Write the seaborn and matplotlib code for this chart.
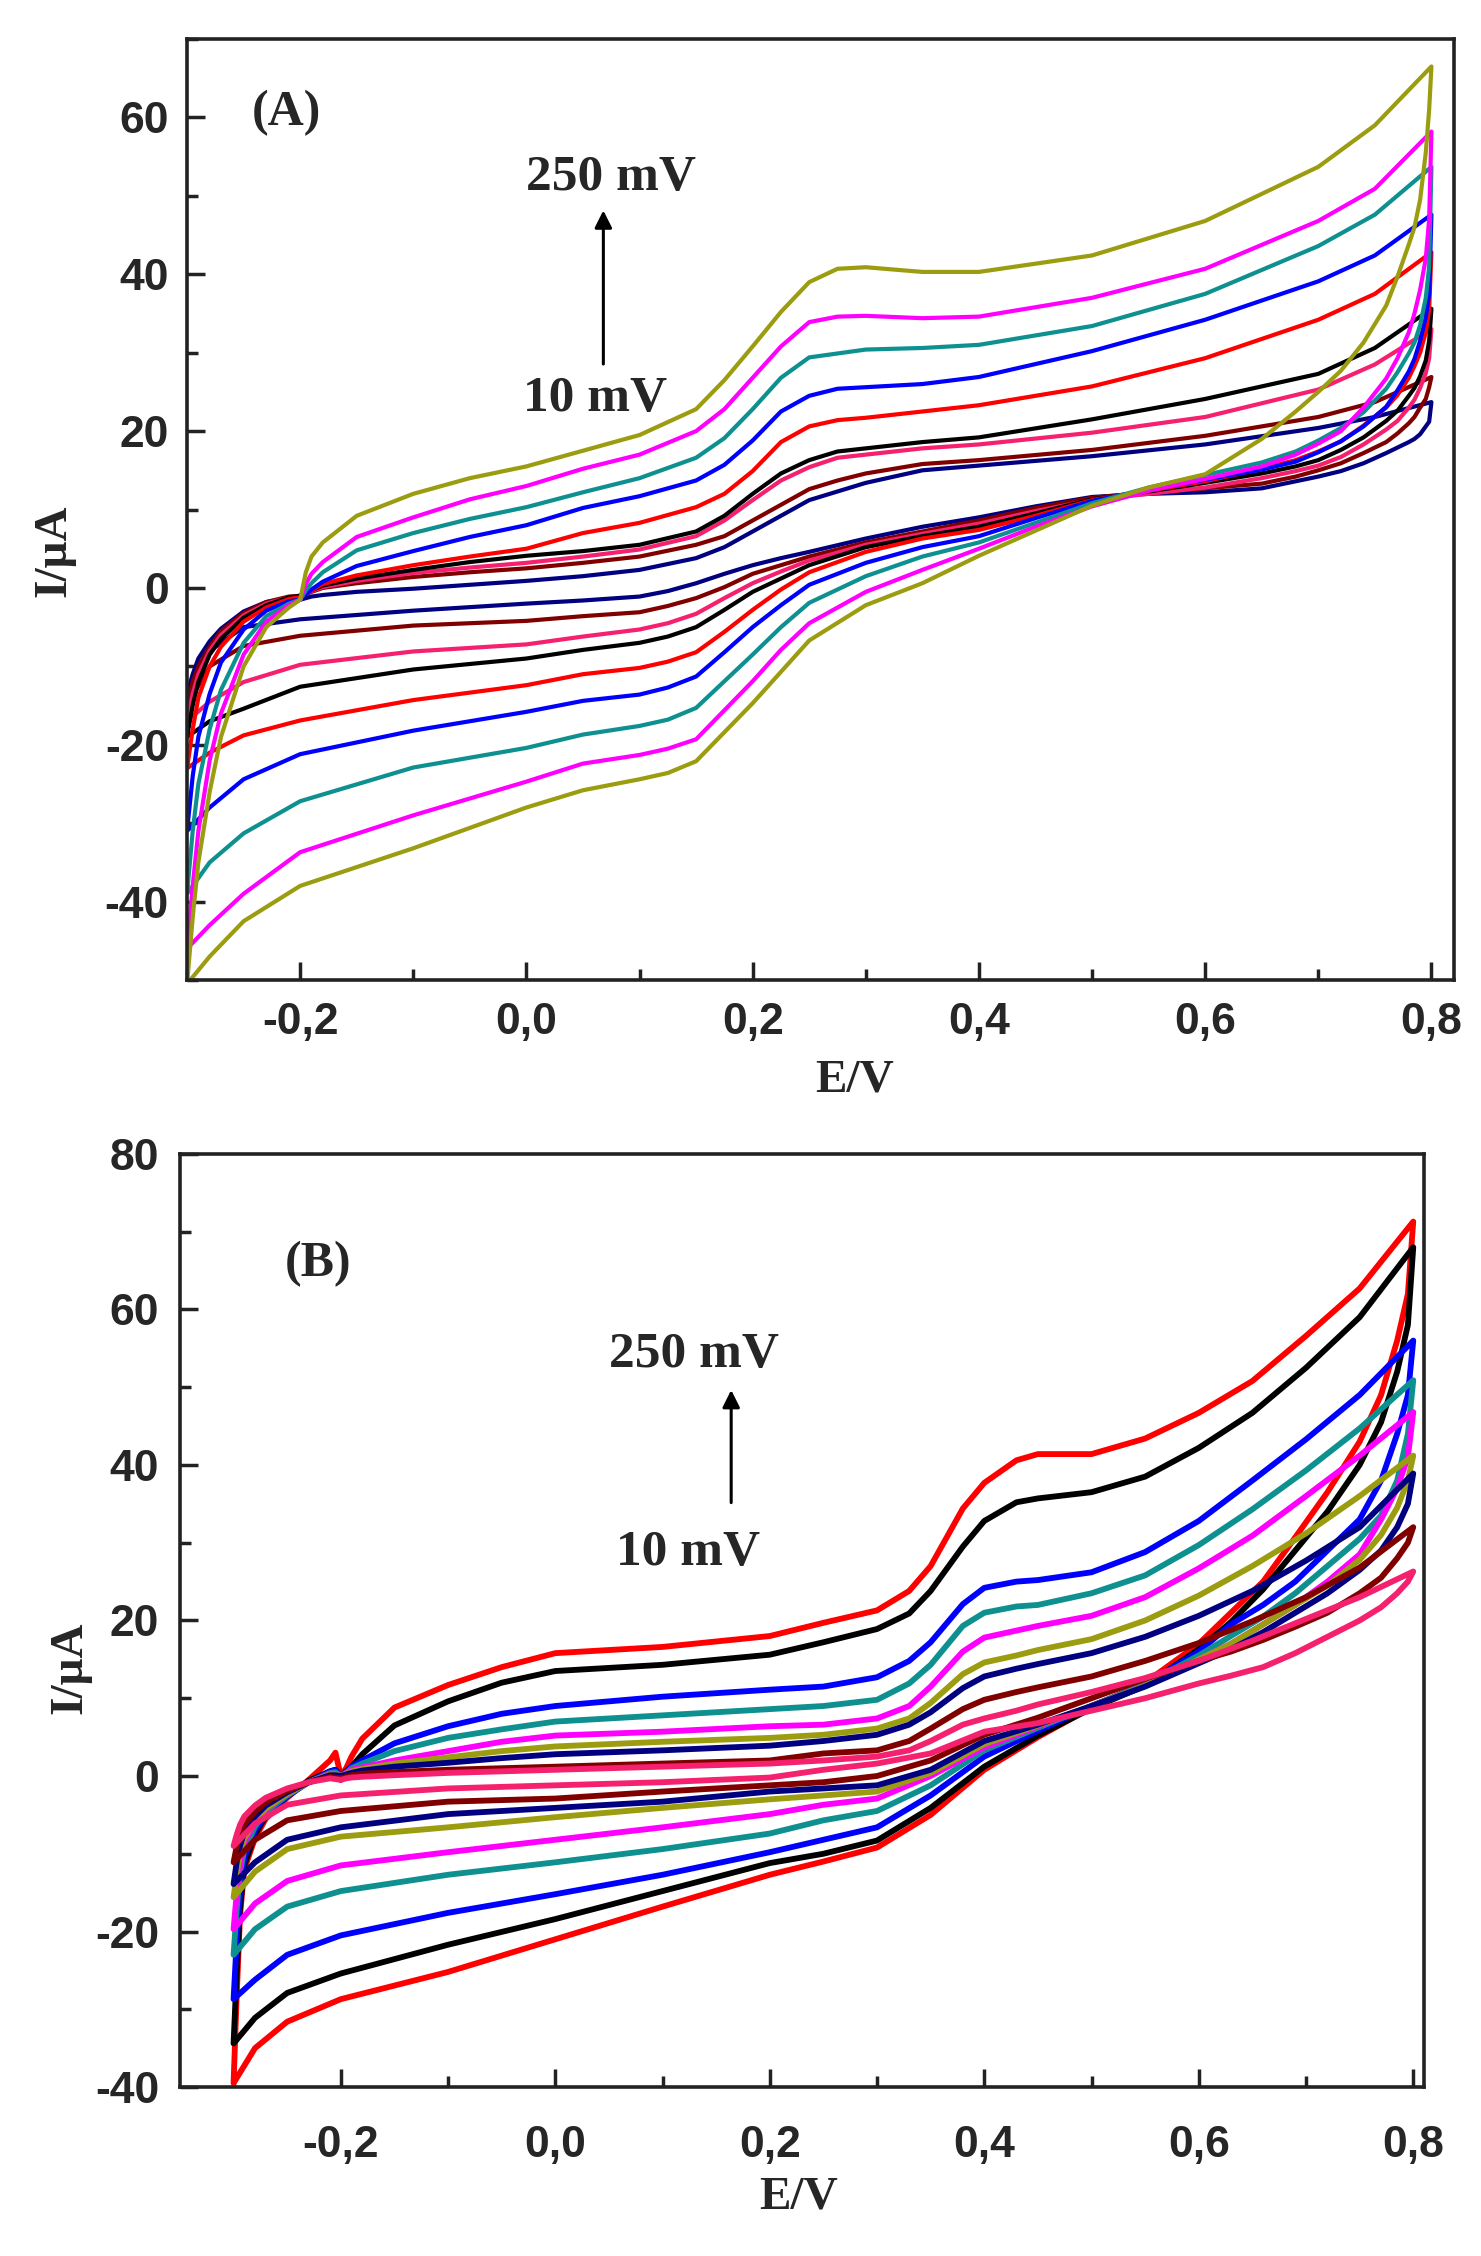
import matplotlib
matplotlib.use("Agg")
import matplotlib.pyplot as plt
import pandas as pd
import seaborn as sns
from matplotlib.ticker import MultipleLocator, FuncFormatter

# ---------------- panel A : potential grids (V) ----------------
A_FWD_X = [-0.20, -0.195, -0.19, -0.18, -0.15, -0.10, -0.05, 0.00, 0.05, 0.10, 0.15, 0.175,
           0.20, 0.225, 0.25, 0.275, 0.30, 0.35, 0.40, 0.50, 0.60, 0.70, 0.75, 0.80]
A_REV_X = [0.80, 0.798, 0.795, 0.79, 0.785, 0.78, 0.77, 0.76, 0.74, 0.72, 0.70, 0.68, 0.65,
           0.60, 0.55, 0.50, 0.45, 0.40, 0.35, 0.30, 0.25, 0.225, 0.20, 0.175, 0.15, 0.125,
           0.10, 0.05, 0.00, -0.10, -0.20, -0.25, -0.28, -0.30]
A_RET_X = [-0.30, -0.295, -0.29, -0.28, -0.27, -0.25, -0.23, -0.21, -0.20]

# panel A currents (uA)
a_olive_fwd = [-1.5, 2.0, 4.0, 5.8, 9.2, 12.0, 14.0, 15.5, 17.5, 19.5, 22.8, 26.5, 30.8, 35.2, 39.0, 40.7, 40.9, 40.3, 40.3, 42.4, 46.8, 53.7, 59.0, 66.5]
a_olive_rev = [66.5, 61.0, 55.5, 49.5, 46.0, 43.8, 39.7, 36.0, 31.3, 27.7, 25.0, 22.5, 19.0, 14.5, 12.8, 10.5, 7.3, 4.1, 0.6, -2.2, -6.7, -10.7, -14.7, -18.4, -22.1, -23.6, -24.4, -25.8, -28.0, -33.2, -38.0, -42.5, -47.0, -50.5]
a_olive_ret = [-50.5, -42.0, -35.0, -26.0, -19.0, -10.0, -5.0, -2.5, -1.5]

a_magenta_fwd = [-1.5, 0.5, 1.8, 3.3, 6.5, 9.0, 11.3, 13.0, 15.2, 17.0, 20.0, 22.8, 26.8, 30.8, 33.9, 34.6, 34.7, 34.4, 34.6, 37.0, 40.7, 46.8, 50.9, 58.2]
a_magenta_rev = [58.2, 47.0, 42.0, 38.0, 35.0, 32.6, 29.3, 26.7, 23.0, 20.0, 18.4, 17.0, 15.5, 13.9, 12.4, 10.4, 7.8, 5.0, 2.3, -0.5, -4.5, -7.9, -11.9, -15.6, -19.3, -20.5, -21.3, -22.4, -24.7, -29.0, -33.7, -39.0, -43.0, -46.0]
a_magenta_ret = [-46.0, -38.0, -31.0, -22.0, -16.0, -8.5, -4.3, -2.2, -1.5]

a_teal_fwd = [-1.5, -0.3, 0.6, 2.0, 4.8, 7.0, 8.8, 10.3, 12.2, 14.0, 16.6, 19.1, 22.8, 26.8, 29.4, 29.9, 30.4, 30.6, 31.0, 33.4, 37.5, 43.6, 47.6, 53.7]
a_teal_rev = [53.7, 41.0, 37.0, 33.5, 31.3, 29.9, 27.5, 25.4, 22.4, 20.4, 18.8, 17.4, 16.0, 14.4, 12.8, 10.8, 8.3, 5.8, 4.0, 1.5, -1.9, -5.0, -8.5, -11.9, -15.3, -16.8, -17.6, -18.7, -20.4, -22.9, -27.2, -31.3, -35.0, -39.0]
a_teal_ret = [-39.0, -31.0, -25.0, -18.0, -13.0, -7.0, -3.6, -2.0, -1.5]

a_blue_fwd = [-1.5, -0.8, -0.2, 0.8, 2.8, 4.7, 6.5, 8.0, 10.2, 11.7, 13.7, 15.7, 18.8, 22.5, 24.5, 25.4, 25.6, 26.0, 26.9, 30.2, 34.2, 39.1, 42.4, 47.6]
a_blue_rev = [47.6, 37.5, 34.5, 31.5, 29.2, 27.6, 25.2, 23.1, 20.6, 18.7, 17.3, 16.1, 15.1, 13.8, 12.5, 11.1, 8.9, 6.6, 5.2, 3.2, 0.4, -2.2, -5.0, -8.2, -11.3, -12.7, -13.6, -14.4, -15.8, -18.2, -21.2, -24.4, -28.0, -31.0]
a_blue_ret = [-31.0, -24.0, -19.0, -13.5, -9.5, -5.3, -2.9, -1.7, -1.5]

a_red_fwd = [-1.2, -0.7, -0.3, 0.5, 1.6, 2.9, 4.0, 5.0, 7.0, 8.3, 10.3, 12.0, 14.9, 18.6, 20.6, 21.4, 21.7, 22.5, 23.3, 25.7, 29.3, 34.2, 37.5, 42.8]
a_red_rev = [42.8, 35.5, 32.6, 30.0, 28.3, 26.8, 24.6, 23.0, 20.7, 18.7, 17.4, 16.3, 15.2, 13.6, 12.4, 11.2, 9.2, 7.4, 6.3, 4.6, 2.0, -0.2, -2.8, -5.6, -8.2, -9.4, -10.2, -11.0, -12.4, -14.3, -16.9, -18.8, -21.0, -23.0]
a_red_ret = [-23.0, -18.0, -14.0, -10.0, -7.5, -4.3, -2.5, -1.4, -1.2]

a_black_fwd = [-1.0, -0.6, -0.3, 0.3, 1.2, 2.3, 3.3, 4.1, 4.7, 5.5, 7.2, 9.2, 12.0, 14.6, 16.3, 17.4, 17.8, 18.6, 19.2, 21.5, 24.1, 27.3, 30.6, 35.6]
a_black_rev = [35.6, 31.5, 29.0, 27.0, 25.5, 24.5, 22.6, 21.3, 19.2, 17.6, 16.3, 15.5, 14.6, 13.4, 12.3, 11.3, 9.5, 7.8, 6.6, 5.2, 2.9, 1.2, -0.5, -2.8, -5.0, -6.2, -7.0, -7.9, -9.0, -10.4, -12.6, -15.4, -17.0, -19.0]
a_black_ret = [-19.0, -15.0, -12.0, -8.5, -6.5, -3.8, -2.2, -1.2, -1.0]

a_pink_fwd = [-1.0, -0.7, -0.4, 0.1, 0.9, 1.9, 2.6, 3.2, 4.0, 4.9, 6.6, 8.6, 11.2, 13.7, 15.4, 16.6, 17.0, 17.8, 18.3, 19.8, 21.8, 25.3, 28.5, 33.0]
a_pink_rev = [33.0, 29.3, 27.4, 25.5, 24.0, 23.0, 21.3, 20.2, 18.3, 16.7, 15.6, 14.9, 14.0, 12.8, 12.0, 11.2, 9.8, 8.2, 6.9, 5.5, 3.5, 2.1, 0.6, -1.3, -3.3, -4.5, -5.3, -6.2, -7.2, -8.1, -9.8, -12.0, -14.5, -17.0]
a_pink_ret = [-17.0, -13.5, -11.0, -8.0, -6.0, -3.5, -2.0, -1.2, -1.0]

a_maroon_fwd = [-1.0, -0.8, -0.5, 0.0, 0.6, 1.4, 2.0, 2.5, 3.2, 4.0, 5.5, 6.6, 8.6, 10.6, 12.6, 13.7, 14.6, 15.8, 16.3, 17.6, 19.4, 21.8, 23.7, 26.9]
a_maroon_rev = [26.9, 25.6, 24.1, 23.0, 21.8, 21.0, 19.7, 18.6, 17.2, 15.9, 15.0, 14.2, 13.3, 12.7, 12.2, 11.5, 10.2, 8.6, 7.2, 5.8, 4.0, 2.9, 1.8, 0.1, -1.3, -2.3, -3.1, -3.6, -4.2, -4.8, -6.1, -7.4, -10.0, -15.0]
a_maroon_ret = [-15.0, -12.0, -10.0, -7.5, -5.5, -3.2, -1.8, -1.1, -1.0]

a_navy_fwd = [-1.5, -1.3, -1.1, -0.9, -0.5, -0.1, 0.4, 0.9, 1.5, 2.3, 3.8, 5.2, 7.2, 9.2, 11.2, 12.3, 13.4, 15.0, 15.6, 16.8, 18.3, 20.4, 21.8, 23.7]
a_navy_rev = [23.7, 21.2, 20.6, 19.6, 19.0, 18.6, 17.9, 17.2, 15.9, 14.9, 14.2, 13.6, 12.7, 12.2, 12.0, 11.6, 10.4, 9.0, 7.8, 6.3, 4.6, 3.8, 2.9, 1.8, 0.6, -0.4, -1.1, -1.6, -2.0, -2.9, -4.0, -5.0, -8.0, -13.5]
a_navy_ret = [-13.5, -11.0, -9.0, -6.8, -5.2, -3.0, -1.8, -1.3, -1.5]

# ---------------- panel B : potential grids (V) ----------------
B_FWD_X = [-0.20, -0.195, -0.19, -0.18, -0.15, -0.10, -0.05, 0.00, 0.10, 0.20, 0.25, 0.30, 0.33,
           0.35, 0.38, 0.40, 0.43, 0.45, 0.50, 0.55, 0.60, 0.65, 0.70, 0.75, 0.80]
B_REV_X = [0.80, 0.795, 0.785, 0.77, 0.75, 0.72, 0.69, 0.66, 0.63, 0.60, 0.55, 0.50, 0.45,
           0.40, 0.35, 0.30, 0.25, 0.20, 0.10, 0.00, -0.10, -0.20, -0.25, -0.28, -0.30]
B_RET_X = [-0.30, -0.297, -0.294, -0.29, -0.28, -0.27, -0.25, -0.23, -0.21, -0.205, -0.20]

b_red_fwd = [0.0, 1.0, 2.5, 4.8, 8.8, 11.7, 14.0, 15.8, 16.6, 18.0, 19.7, 21.3, 23.8, 27.0, 34.4, 37.7, 40.6, 41.4, 41.4, 43.4, 46.7, 50.8, 56.6, 62.7, 71.3]
b_red_rev = [71.3, 62.0, 56.0, 49.0, 43.0, 36.5, 30.7, 25.0, 21.0, 17.0, 12.0, 8.8, 5.0, 0.8, -5.0, -9.2, -11.0, -12.7, -16.8, -21.0, -25.2, -28.7, -31.6, -35.0, -39.5]
b_red_ret = [-39.5, -28.0, -18.0, -12.0, -8.0, -5.5, -2.8, -0.5, 2.0, 3.0, 0.0]

b_black_fwd = [0.0, 0.6, 1.2, 2.8, 6.5, 9.6, 12.0, 13.5, 14.3, 15.6, 17.2, 18.9, 20.9, 23.8, 29.5, 32.8, 35.2, 35.7, 36.5, 38.5, 42.2, 46.7, 52.5, 59.0, 68.0]
b_black_rev = [68.0, 58.0, 52.0, 45.5, 40.0, 34.0, 29.0, 24.0, 19.8, 16.3, 11.6, 8.7, 5.2, 1.2, -4.1, -8.3, -10.0, -11.2, -14.8, -18.4, -21.7, -25.4, -27.9, -31.1, -34.4]
b_black_ret = [-34.4, -25.0, -17.0, -11.5, -7.5, -5.2, -2.6, -0.6, 0.6, 0.8, 0.0]

b_blue_fwd = [0.0, 0.5, 1.2, 2.0, 4.2, 6.4, 8.0, 9.0, 10.2, 11.1, 11.5, 12.7, 14.8, 17.2, 22.1, 24.2, 25.0, 25.2, 26.2, 28.8, 32.8, 38.0, 43.3, 49.0, 56.0]
b_blue_rev = [56.0, 49.0, 44.0, 38.0, 33.0, 29.0, 25.0, 22.0, 19.5, 16.0, 11.8, 9.0, 5.8, 2.5, -2.5, -6.6, -8.2, -9.8, -12.7, -15.2, -17.6, -20.5, -23.0, -26.2, -28.7]
b_blue_ret = [-28.7, -21.0, -15.0, -10.5, -7.0, -5.0, -2.6, -0.8, 0.6, 0.8, 0.0]

b_teal_fwd = [0.0, 0.4, 1.0, 1.6, 3.2, 4.9, 6.0, 7.0, 7.8, 8.6, 9.0, 9.8, 11.9, 14.3, 19.3, 21.0, 21.8, 22.0, 23.5, 25.8, 29.7, 34.3, 39.3, 44.7, 50.9]
b_teal_rev = [50.9, 44.0, 38.0, 33.5, 30.5, 27.0, 23.5, 20.5, 18.0, 15.5, 11.8, 9.0, 6.2, 3.3, -1.2, -4.5, -5.7, -7.4, -9.4, -11.1, -12.7, -14.8, -16.8, -19.7, -23.0]
b_teal_ret = [-23.0, -17.0, -12.5, -9.5, -6.5, -4.6, -2.5, -0.8, 0.4, 0.5, 0.0]

b_magenta_fwd = [0.0, 0.4, 0.8, 1.1, 2.0, 3.2, 4.4, 5.2, 5.7, 6.4, 6.6, 7.4, 9.0, 11.5, 16.0, 17.8, 18.7, 19.3, 20.6, 23.0, 26.7, 30.9, 36.0, 41.2, 46.8]
b_magenta_rev = [46.8, 41.0, 37.0, 33.0, 28.5, 25.0, 22.0, 19.5, 17.0, 15.0, 11.6, 9.0, 6.4, 3.7, 0.0, -2.9, -3.7, -4.9, -6.6, -8.2, -9.8, -11.5, -13.5, -16.4, -19.7]
b_magenta_ret = [-19.7, -15.0, -11.5, -8.5, -6.0, -4.3, -2.3, -0.8, 0.3, 0.3, 0.0]

b_olive_fwd = [0.0, 0.3, 0.6, 0.9, 1.6, 2.4, 3.2, 3.8, 4.4, 4.9, 5.3, 6.1, 7.4, 9.4, 13.1, 14.6, 15.5, 16.2, 17.6, 20.0, 23.2, 27.0, 31.2, 36.0, 41.2]
b_olive_rev = [41.2, 38.0, 34.5, 31.0, 27.8, 24.5, 22.0, 19.5, 17.0, 15.0, 11.6, 9.0, 6.5, 4.1, 0.4, -2.0, -2.5, -3.0, -4.1, -5.3, -6.6, -7.8, -9.4, -12.3, -15.6]
b_olive_ret = [-15.6, -12.5, -10.0, -8.0, -5.8, -4.2, -2.3, -0.8, 0.2, 0.2, 0.0]

b_navy_fwd = [0.0, 0.2, 0.4, 0.7, 1.2, 1.7, 2.3, 2.8, 3.3, 3.9, 4.5, 5.3, 6.6, 8.2, 11.3, 12.8, 13.8, 14.4, 15.8, 17.9, 20.6, 23.8, 27.7, 32.0, 38.9]
b_navy_rev = [38.9, 35.0, 32.0, 29.0, 26.5, 23.5, 21.0, 18.5, 16.3, 14.5, 11.5, 9.0, 6.6, 4.5, 0.8, -1.2, -1.6, -2.0, -3.3, -4.1, -4.9, -6.6, -8.2, -11.1, -13.9]
b_navy_ret = [-13.9, -11.0, -9.0, -7.2, -5.2, -3.8, -2.1, -0.8, 0.1, 0.1, 0.0]

b_maroon_fwd = [-0.3, -0.1, 0.1, 0.3, 0.5, 0.8, 1.0, 1.2, 1.6, 2.0, 2.9, 3.3, 4.5, 6.1, 8.6, 9.8, 10.8, 11.4, 12.8, 14.8, 17.1, 19.9, 23.0, 26.8, 32.0]
b_maroon_rev = [32.0, 30.0, 28.0, 25.5, 23.5, 21.0, 19.2, 17.5, 16.0, 14.8, 12.5, 10.0, 7.5, 5.3, 2.0, 0.0, -0.8, -1.2, -2.0, -2.9, -3.3, -4.5, -5.7, -8.2, -11.1]
b_maroon_ret = [-11.1, -9.0, -7.5, -6.2, -4.6, -3.4, -1.9, -0.8, -0.1, -0.2, -0.3]

b_pink_fwd = [-0.5, -0.3, -0.2, -0.1, 0.1, 0.4, 0.6, 0.8, 1.2, 1.6, 2.0, 2.5, 3.3, 4.5, 6.6, 7.4, 8.4, 9.2, 10.8, 12.6, 14.8, 17.4, 20.2, 23.0, 26.3]
b_pink_rev = [26.3, 25.0, 23.5, 21.7, 20.0, 17.9, 15.8, 14.0, 12.9, 11.9, 10.0, 8.4, 6.8, 5.7, 2.9, 1.6, 0.8, -0.2, -0.8, -1.2, -1.6, -2.5, -3.7, -6.1, -9.0]
b_pink_ret = [-9.0, -7.5, -6.3, -5.2, -3.8, -2.8, -1.6, -0.8, -0.3, -0.4, -0.5]

COLORS = {
    "olive": "#9c9c10",
    "magenta": "#ff00ff",
    "teal": "#0f9090",
    "blue": "#0000ff",
    "red": "#ff0000",
    "black": "#000000",
    "pink": "#f5206e",
    "maroon": "#800000",
    "navy": "#000080",
}

A_CURVES = {
    "navy": (a_navy_fwd, a_navy_rev, a_navy_ret),
    "maroon": (a_maroon_fwd, a_maroon_rev, a_maroon_ret),
    "pink": (a_pink_fwd, a_pink_rev, a_pink_ret),
    "black": (a_black_fwd, a_black_rev, a_black_ret),
    "red": (a_red_fwd, a_red_rev, a_red_ret),
    "blue": (a_blue_fwd, a_blue_rev, a_blue_ret),
    "teal": (a_teal_fwd, a_teal_rev, a_teal_ret),
    "magenta": (a_magenta_fwd, a_magenta_rev, a_magenta_ret),
    "olive": (a_olive_fwd, a_olive_rev, a_olive_ret),
}
B_CURVES = {
    "red": (b_red_fwd, b_red_rev, b_red_ret),
    "black": (b_black_fwd, b_black_rev, b_black_ret),
    "blue": (b_blue_fwd, b_blue_rev, b_blue_ret),
    "teal": (b_teal_fwd, b_teal_rev, b_teal_ret),
    "magenta": (b_magenta_fwd, b_magenta_rev, b_magenta_ret),
    "olive": (b_olive_fwd, b_olive_rev, b_olive_ret),
    "navy": (b_navy_fwd, b_navy_rev, b_navy_ret),
    "maroon": (b_maroon_fwd, b_maroon_rev, b_maroon_ret),
    "pink": (b_pink_fwd, b_pink_rev, b_pink_ret),
}

SERIF = "Liberation Serif"
SANS = "Liberation Sans"


def build_frame(curves, fwd_x, rev_x, ret_x):
    parts = []
    for name, (fwd, rev, ret) in curves.items():
        e = fwd_x + rev_x + ret_x
        i = fwd + rev + ret
        assert len(e) == len(i), name
        parts.append(pd.DataFrame({"E": e, "I": i, "curve": name, "step": range(len(e))}))
    return pd.concat(parts, ignore_index=True)


def comma_fmt(v, pos):
    return f"{v:.1f}".replace(".", ",")


def style_axes(ax, xlim, ylim, xpad, ypad):
    ax.set_xlim(*xlim)
    ax.set_ylim(*ylim)
    ax.xaxis.set_major_locator(MultipleLocator(0.2))
    ax.xaxis.set_minor_locator(MultipleLocator(0.1))
    ax.yaxis.set_major_locator(MultipleLocator(20))
    ax.yaxis.set_minor_locator(MultipleLocator(10))
    ax.xaxis.set_major_formatter(FuncFormatter(comma_fmt))
    ax.yaxis.set_major_formatter(FuncFormatter(lambda v, p: f"{v:.0f}"))
    ax.tick_params(which="both", direction="in", top=False, right=False, width=2.5, color="#222222")
    ax.tick_params(which="major", length=13)
    ax.tick_params(which="minor", length=8)
    ax.tick_params(axis="x", pad=xpad, labelsize=32)
    ax.tick_params(axis="y", pad=ypad, labelsize=32)
    for lab in ax.get_xticklabels() + ax.get_yticklabels():
        lab.set_fontweight("bold")
        lab.set_family(SANS)
    for sp in ax.spines.values():
        sp.set_linewidth(2.6)
        sp.set_color("#222222")
        sp.set_visible(True)


def annotate_rates(ax, tag, tag_xy, top_xy, bottom_xy, arrow_x, arrow_y):
    ax.text(*tag_xy, tag, family=SERIF, fontweight="bold", fontsize=36, ha="center", va="center")
    ax.text(*top_xy, "250 mV", family=SERIF, fontweight="bold", fontsize=37, ha="center", va="center")
    ax.text(*bottom_xy, "10 mV", family=SERIF, fontweight="bold", fontsize=37, ha="center", va="center")
    ax.annotate("", xy=(arrow_x, arrow_y[1]), xytext=(arrow_x, arrow_y[0]),
                arrowprops=dict(arrowstyle="-|>", color="black", lw=2.2, mutation_scale=26))


sns.set_style("ticks")
plt.rcParams["font.family"] = [SANS, "DejaVu Sans"]
plt.rcParams["font.weight"] = "bold"

fig = plt.figure(figsize=(14.81, 22.56), dpi=100)
ax_a = fig.add_axes([0.1263, 0.5656, 0.8555, 0.4171])
ax_b = fig.add_axes([0.1215, 0.0749, 0.8400, 0.4136])

# ---- panel A ----
df_a = build_frame(A_CURVES, A_FWD_X, A_REV_X, A_RET_X)
sns.lineplot(data=df_a, x="E", y="I", hue="curve", hue_order=list(A_CURVES),
             palette=COLORS, sort=False, estimator=None, legend=False,
             linewidth=3.0, ax=ax_a)
style_axes(ax_a, (-0.30, 0.82), (-50, 70), xpad=16, ypad=13)
ax_a.set_xlabel("E/V", family=SERIF, fontweight="bold", fontsize=34)
ax_a.set_ylabel("I/\u03bcA", family=SERIF, fontweight="bold", fontsize=34)
ax_a.xaxis.set_label_coords(0.527, -0.107)
ax_a.xaxis.label.set_va("center")
ax_a.yaxis.set_label_coords(-0.105, 0.456)
ax_a.yaxis.label.set_va("center")
annotate_rates(ax_a, "(A)", (-0.212, 60.5), (0.075, 52.3), (0.061, 24.1), 0.068, (28.2, 48.5))

# ---- panel B ----
df_b = build_frame(B_CURVES, B_FWD_X, B_REV_X, B_RET_X)
sns.lineplot(data=df_b, x="E", y="I", hue="curve", hue_order=list(B_CURVES),
             palette=COLORS, sort=False, estimator=None, legend=False,
             linewidth=4.2, ax=ax_b)
style_axes(ax_b, (-0.35, 0.81), (-40, 80), xpad=27, ypad=15)
ax_b.set_xlabel("E/V", family=SERIF, fontweight="bold", fontsize=34)
ax_b.set_ylabel("I/\u03bcA", family=SERIF, fontweight="bold", fontsize=34)
ax_b.xaxis.set_label_coords(0.497, -0.118)
ax_b.xaxis.label.set_va("center")
ax_b.yaxis.set_label_coords(-0.088, 0.449)
ax_b.yaxis.label.set_va("center")
annotate_rates(ax_b, "(B)", (-0.221, 65.8), (0.129, 54.1), (0.124, 28.7), 0.164, (34.8, 50.0))

fig.savefig("out.png", dpi=100, facecolor="white")
